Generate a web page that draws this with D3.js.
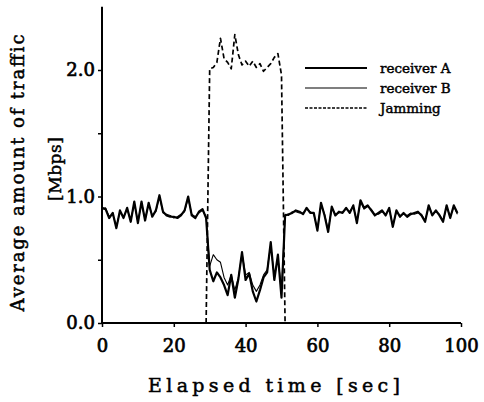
<!DOCTYPE html>
<html>
<head>
<meta charset="utf-8">
<script src="https://cdn.jsdelivr.net/npm/d3@7"></script>
<style>
  body { margin: 0; background: #fff; }
  svg { display: block; }
  text { font-family: "DejaVu Serif", serif; fill: #000; }
</style>
</head>
<body>
<script>
const w = 484;
const h = 402;

// elapsed seconds 0..99
const time = d3.range(0, 100);

const receiverA = [
  0.91, 0.90, 0.83, 0.87, 0.75, 0.89, 0.83, 0.91, 0.80, 0.96,
  0.79, 0.96, 0.81, 0.95, 0.84, 0.89, 1.01, 0.88, 0.85, 0.84,
  0.84, 0.83, 0.85, 0.89, 1.00, 0.85, 0.83, 0.88, 0.90, 0.83,
  0.42, 0.33, 0.40, 0.36, 0.30, 0.22, 0.38, 0.20, 0.35, 0.56,
  0.34, 0.39, 0.25, 0.17, 0.26, 0.36, 0.40, 0.64, 0.34, 0.54,
  0.20, 0.85, 0.86, 0.87, 0.89, 0.88, 0.86, 0.91, 0.87, 0.87,
  0.73, 0.95, 0.85, 0.72, 0.92, 0.85, 0.88, 0.87, 0.91, 0.87,
  0.93, 0.79, 0.97, 0.91, 0.93, 0.89, 0.85, 0.87, 0.89, 0.85,
  0.91, 0.76, 0.89, 0.84, 0.87, 0.84, 0.86, 0.87, 0.88, 0.85,
  0.80, 0.93, 0.85, 0.89, 0.85, 0.80, 0.93, 0.83, 0.93, 0.87
];

const receiverB = [
  0.90, 0.91, 0.84, 0.86, 0.76, 0.88, 0.84, 0.90, 0.81, 0.95,
  0.80, 0.95, 0.82, 0.94, 0.85, 0.88, 1.00, 0.87, 0.86, 0.85,
  0.83, 0.84, 0.86, 0.88, 0.99, 0.86, 0.84, 0.87, 0.89, 0.84,
  0.45, 0.54, 0.50, 0.48, 0.36, 0.30, 0.38, 0.26, 0.36, 0.55,
  0.38, 0.40, 0.30, 0.25, 0.30, 0.38, 0.42, 0.62, 0.36, 0.52,
  0.26, 0.86, 0.85, 0.88, 0.88, 0.87, 0.87, 0.90, 0.88, 0.86,
  0.74, 0.94, 0.86, 0.73, 0.91, 0.86, 0.87, 0.88, 0.90, 0.88,
  0.92, 0.80, 0.96, 0.90, 0.92, 0.90, 0.86, 0.86, 0.88, 0.86,
  0.90, 0.77, 0.88, 0.85, 0.86, 0.85, 0.87, 0.86, 0.87, 0.86,
  0.81, 0.92, 0.86, 0.88, 0.86, 0.81, 0.92, 0.84, 0.92, 0.86
];

const jamming = [
  0, 0, 0, 0, 0, 0, 0, 0, 0, 0,
  0, 0, 0, 0, 0, 0, 0, 0, 0, 0,
  0, 0, 0, 0, 0, 0, 0, 0, 0, 0,
  2.01, 2.02, 2.06, 2.25, 2.09, 2.06, 2.01, 2.28, 2.12, 2.04,
  2.07, 2.03, 2.07, 2.02, 2.05, 1.99, 2.02, 2.05, 2.10, 2.13,
  1.96, 0, 0, 0, 0, 0, 0, 0, 0, 0,
  0, 0, 0, 0, 0, 0, 0, 0, 0, 0,
  0, 0, 0, 0, 0, 0, 0, 0, 0, 0,
  0, 0, 0, 0, 0, 0, 0, 0, 0, 0,
  0, 0, 0, 0, 0, 0, 0, 0, 0, 0
];

const xTicks = [0, 20, 40, 60, 80, 100];
const yTicks = [0, 0.5, 1.0, 1.5, 2.0];
const yLabels = { 0: "0.0", 1: "1.0", 2: "2.0" };

const seriesNames = ["receiver A", "receiver B", "Jamming"];

const svg = d3.select("body").append("svg").attr("width", w).attr("height", h);

const xScale = d3.scaleLinear().domain([0, 100]).range([102, 461]);
const yScale = d3.scaleLinear().domain([0, 2.5]).range([323, 6.75]);

const styles = [
  { width: 2.2, dash: null },
  { width: 1.1, dash: null },
  { width: 1.7, dash: "5,3" }
];

const series = [receiverA, receiverB, jamming];

// data lines
const line = d3.line()
  .x((d, i) => xScale(time[i]))
  .y(d => yScale(d));

const lines = svg.append("g").attr("class", "lines");
series.forEach(function (s, k) {
  lines.append("path")
    .datum(s)
    .attr("fill", "none")
    .attr("stroke", "#000")
    .attr("stroke-width", styles[k].width)
    .attr("stroke-dasharray", styles[k].dash)
    .attr("stroke-linejoin", "round")
    .attr("d", line);
});

// axes
const xAxis = d3.axisBottom(xScale).tickValues(xTicks).tickSize(4).tickPadding(12).tickFormat(d3.format("d"));
const yAxis = d3.axisLeft(yScale).tickValues(yTicks).tickSize(4).tickPadding(3)
  .tickFormat(d => yLabels[d] || "");

const gx = svg.append("g").attr("transform", "translate(0," + yScale(0) + ")").call(xAxis);
const gy = svg.append("g").attr("transform", "translate(" + xScale(0) + ",0)").call(yAxis);

[gx, gy].forEach(function (g) {
  g.select(".domain").attr("stroke-width", 2);
  g.selectAll(".tick line").attr("stroke-width", 1.5);
  g.selectAll(".tick text")
    .style("font-family", "DejaVu Serif")
    .style("font-size", "18px")
    .attr("stroke", "#000").attr("stroke-width", 0.7);
});
gy.select(".domain").attr("d", "M0," + yScale(2.5) + "V" + yScale(0));
gx.select(".domain").attr("d", "M" + xScale(0) + ",0H" + xScale(100));

// axis titles
svg.append("text")
  .attr("x", 274).attr("y", 392)
  .attr("text-anchor", "middle")
  .attr("textLength", 252).attr("lengthAdjust", "spacing")
  .style("font-size", "19px")
  .attr("stroke", "#000").attr("stroke-width", 0.5)
  .text("Elapsed time [sec]");

svg.append("text")
  .attr("transform", "translate(24,173) rotate(-90)")
  .attr("text-anchor", "middle")
  .attr("textLength", 277).attr("lengthAdjust", "spacing")
  .style("font-size", "18px")
  .attr("stroke", "#000").attr("stroke-width", 0.5)
  .text("Average  amount of traffic");

svg.append("text")
  .attr("transform", "translate(61,169) rotate(-90)")
  .attr("text-anchor", "middle")
  .attr("textLength", 64).attr("lengthAdjust", "spacing")
  .style("font-size", "17px")
  .attr("stroke", "#000").attr("stroke-width", 0.5)
  .text("[Mbps]");

// legend
const legend = svg.append("g").attr("class", "legend");
seriesNames.forEach(function (name, k) {
  const ly = 68 + k * 20;
  legend.append("line")
    .attr("x1", 305).attr("x2", 367)
    .attr("y1", ly).attr("y2", ly)
    .attr("stroke", "#000")
    .attr("stroke-width", styles[k].width)
    .attr("stroke-dasharray", k === 2 ? "3,1.5" : null);
  legend.append("text")
    .attr("x", 380).attr("y", ly + 4.5)
    .style("font-size", "13.5px")
    .attr("stroke", "#000").attr("stroke-width", 0.45)
    .text(name);
});
</script>
</body>
</html>
